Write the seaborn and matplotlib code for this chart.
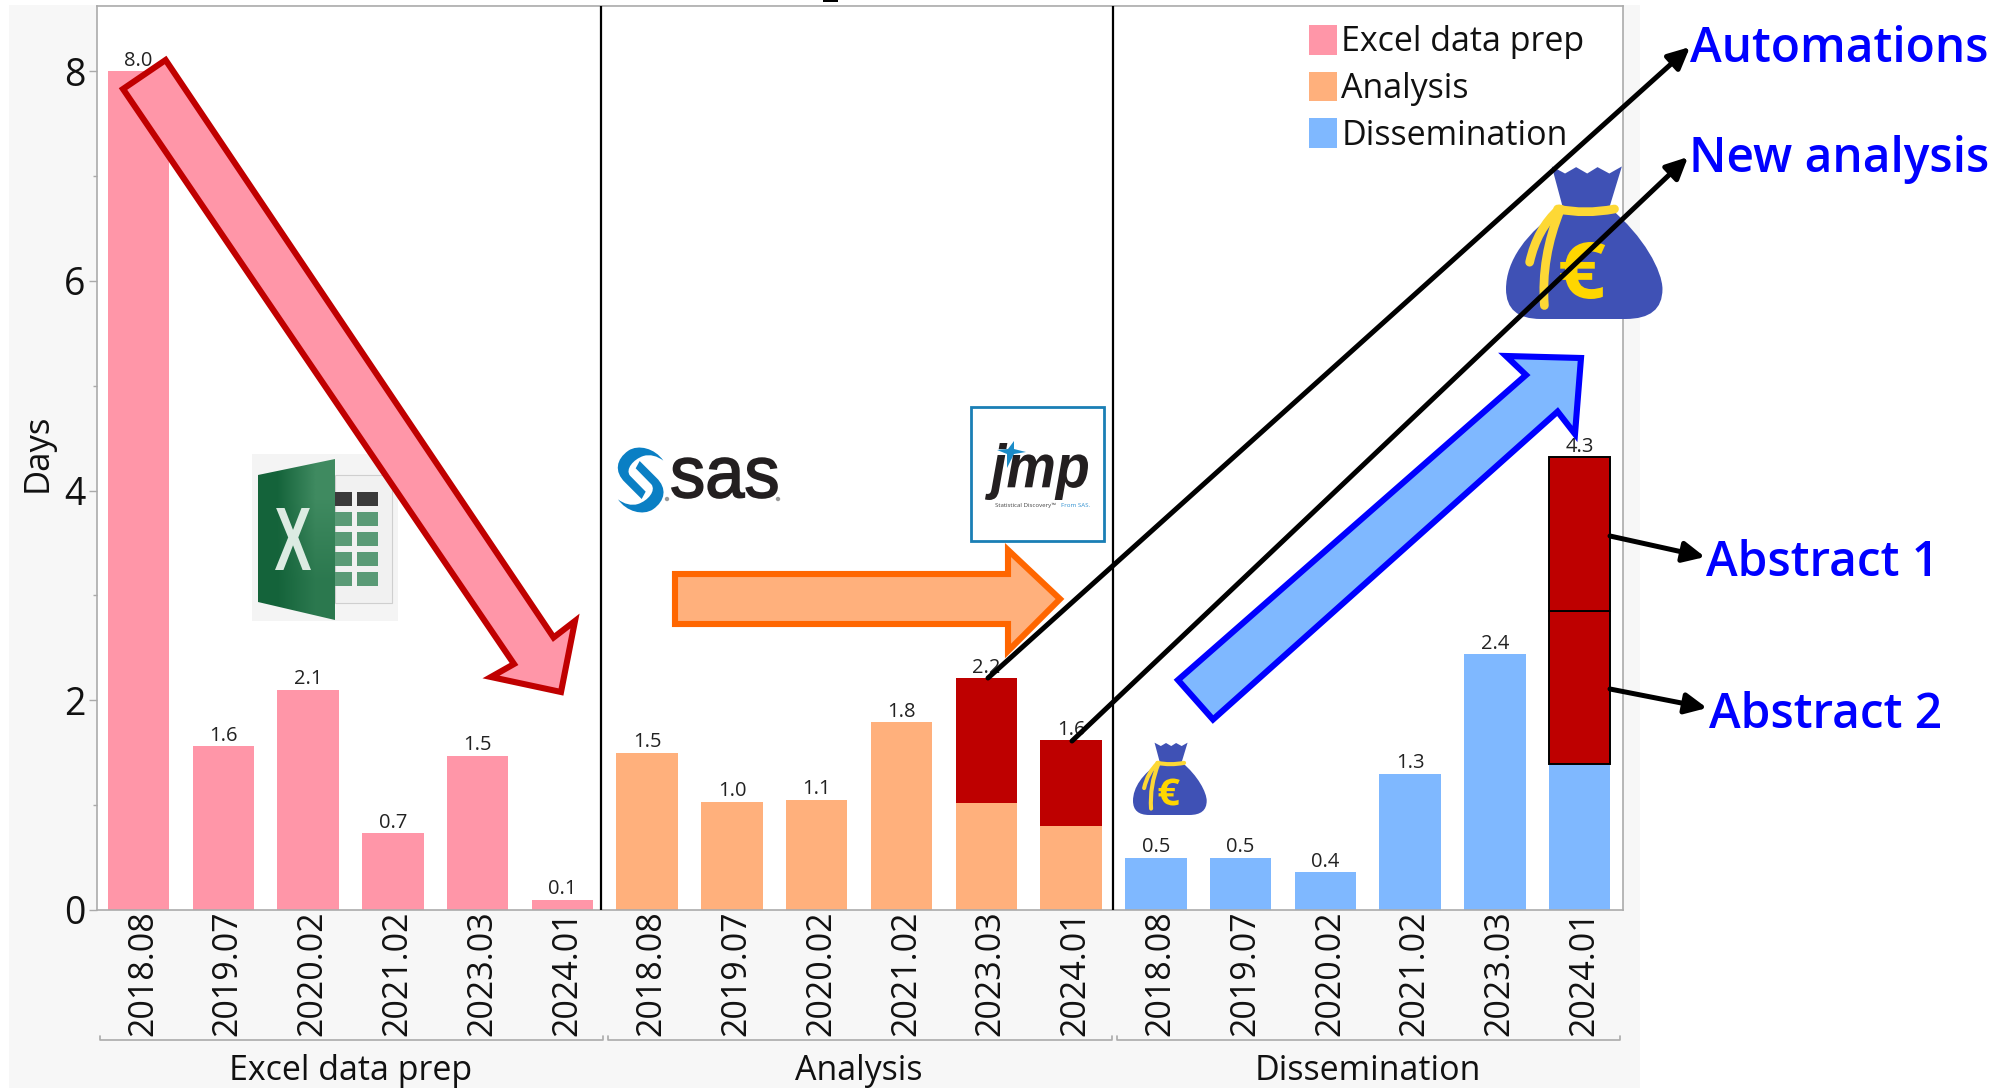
import numpy as np
import pandas as pd
import matplotlib
matplotlib.use("Agg")
import matplotlib.pyplot as plt
import seaborn as sns
from matplotlib.patches import Polygon, Rectangle, PathPatch, Circle, Patch
from matplotlib.path import Path
from matplotlib.textpath import TextPath
from matplotlib.font_manager import FontProperties
from matplotlib.ticker import MultipleLocator
from matplotlib.transforms import Affine2D, ScaledTranslation

groups = ["Excel data prep", "Analysis", "Dissemination"]
dates = ["2018.08", "2019.07", "2020.02", "2021.02", "2023.03", "2024.01"]
excel_days = [8.0, 1.56, 2.10, 0.73, 1.47, 0.10]
analysis_days = [1.50, 1.03, 1.05, 1.79, 2.21, 1.62]
dissemination_days = [0.50, 0.50, 0.36, 1.30, 2.44, 4.32]
value_labels = ["8.0", "1.6", "2.1", "0.7", "1.5", "0.1",
                "1.5", "1.0", "1.1", "1.8", "2.2", "1.6",
                "0.5", "0.5", "0.4", "1.3", "2.4", "4.3"]
palette = ["#FF96A8", "#FFB07C", "#7FB8FF"]
# highlighted (dark red) pieces: position, bottom, top
red_pos = [10, 11, 17, 17]
red_bottom = [1.02, 0.80, 1.39, 2.85]
red_top = [2.21, 1.62, 2.85, 4.32]
red_edge = ["none", "none", "black", "black"]

sns.set_theme(style="white")
FONT = ["Open Sans", "DejaVu Sans"]
plt.rcParams["font.family"] = FONT

W, H = 2016, 1088
fig = plt.figure(figsize=(W / 100, H / 100), dpi=100, facecolor="white")
fig.add_artist(Rectangle((9 / W, 0), (1640 - 9) / W, (H - 5) / H, transform=fig.transFigure,
                         fc="#F7F7F7", ec="none", zorder=-5))
L, R, T, B = 97, 1623, 6, 910
ax = fig.add_axes([L / W, (H - B) / H, (R - L) / W, (B - T) / H], facecolor="white")

values = excel_days + analysis_days + dissemination_days
df = pd.DataFrame({
    "key": [f"{g}|{d}" for g in groups for d in dates],
    "group": [g for g in groups for _ in dates],
    "Days": values,
})
sns.barplot(data=df, x="key", y="Days", hue="group", hue_order=groups, palette=palette,
            dodge=False, width=0.725, saturation=1, ax=ax, legend=False, zorder=2, linewidth=0)
ax.bar(red_pos, np.array(red_top) - np.array(red_bottom), bottom=red_bottom, width=0.725,
       color="#BE0000", edgecolor=red_edge, linewidth=1.4, zorder=3)
ax.set_xlim(-0.49, 17.51)
ax.set_ylim(0, (B - T) / 104.85)
ax.set_xticks(range(18), dates * 3, rotation=90, fontsize=24.5, color="#111111")
ax.tick_params(axis="x", length=0, pad=0)
shift = ScaledTranslation(4.5 / 100, 0, fig.dpi_scale_trans)
for lab in ax.get_xticklabels():
    lab.set_transform(lab.get_transform() + shift)
ax.set_yticks([0, 2, 4, 6, 8], ["0", "2", "4", "6", "8"], fontsize=27, color="#111111")
ax.yaxis.set_minor_locator(MultipleLocator(1))
ax.tick_params(axis="y", which="major", length=6, width=1, color="#AAAAAA", pad=2.2, left=True)
ax.tick_params(axis="y", which="minor", length=3, width=1, color="#AAAAAA", left=True)
ax.set_xlabel("")
ax.set_ylabel("Days", fontsize=25, color="#111111", va="center")
ax.yaxis.set_label_coords(-0.039, 0.506)
for s in ax.spines.values():
    s.set_color("#ABABAB")
    s.set_linewidth(1.2)
for i, (v, lab) in enumerate(zip(values, value_labels)):
    ax.text(i, v + 0.005, lab, ha="center", va="bottom", fontsize=14.5, color="#222222", zorder=4)
ax.axvline(5.45, color="black", lw=1.6, zorder=3)
ax.axvline(11.49, color="black", lw=1.6, zorder=3)

handles = [Patch(fc=c, ec="none", label=g) for c, g in zip(palette, groups)]
ax.legend(handles=handles, loc="upper left", bbox_to_anchor=((1309 - L) / (R - L), (B - 25) / (B - T)),
          frameon=False, fontsize=24.5, handlelength=0.81, handleheight=0.96,
          handletextpad=0.14, labelspacing=0.36, borderpad=0, borderaxespad=0, labelcolor="#111111")

# overlay in pixel coordinates for annotations and logos
ov = fig.add_axes([0, 0, 1, 1], facecolor="none", zorder=10)
ov.set_xlim(0, W)
ov.set_ylim(H, 0)
ov.axis("off")

# group brackets
for x0, x1, g, cx in [(100, 603, groups[0], 351), (608, 1112, groups[1], 859), (1117, 1620, groups[2], 1368)]:
    ov.plot([x0, x0, x1, x1], [1036, 1040, 1040, 1036], color="#ABABAB", lw=1.2)
    ov.text(cx, 1071, g, ha="center", va="center", fontsize=24.5, color="#111111")
ov.add_patch(Rectangle((823, 0), 15, 1.5, fc="black", ec="none"))

# --- logos ---
def fit_text(s, x0, y0, x1, y1, color, family, weight="normal", style="normal", zorder=3, stroke=0):
    tp = TextPath((0, 0), s, size=100, prop=FontProperties(family=family, weight=weight, style=style))
    bb = tp.get_extents()
    tr = (Affine2D().translate(-bb.x0, -bb.y0).scale((x1 - x0) / bb.width, -(y1 - y0) / bb.height)
          .translate(x0, y1))
    ov.add_patch(PathPatch(tp, transform=tr + ov.transData, fc=color, ec=color if stroke else "none",
                           lw=stroke, zorder=zorder))

# Excel
ov.add_patch(Rectangle((252, 454), 146, 167, fc="#F4F4F4", ec="none", zorder=1))
ov.add_patch(Rectangle((335, 475), 57, 128, fc="#F1F1F1", ec="#CFCFCF", lw=0.8, zorder=1.1))
ov.add_patch(Rectangle((335, 492), 17, 14, fc="#3A3A3A", ec="none", zorder=1.1))
ov.add_patch(Rectangle((357, 492), 21, 14, fc="#3A3A3A", ec="none", zorder=1.1))
for yy in [512, 532, 552, 572]:
    ov.add_patch(Rectangle((335, yy), 17, 14, fc="#5A9A76", ec="none", zorder=1.1))
    ov.add_patch(Rectangle((357, yy), 21, 14, fc="#5A9A76", ec="none", zorder=1.1))
green = Polygon([(258, 475), (335, 459), (335, 620), (258, 602)], fc="none", ec="none", zorder=1.2)
ov.add_patch(green)
grad = ov.imshow(np.array([[0.0, 1.0], [0.0, 0.55]]), extent=(258, 335, 620, 459), aspect="auto", zorder=1.2,
                 cmap=matplotlib.colors.LinearSegmentedColormap.from_list("g", ["#14633A", "#3F8A60"]),
                 interpolation="bilinear")
grad.set_clip_path(green)
ov.set_xlim(0, W)
ov.set_ylim(H, 0)
fit_text("X", 275, 508, 311, 570, "#DCEBE2", "Liberation Sans", weight="bold", zorder=1.3)

# SAS
def sx(p):
    return [(600 + a / 3, 430 + b / 3) for a, b in p]
swirl = [(190, 92), (165, 55), (115, 42), (85, 62), (48, 88), (42, 125), (75, 157), (125, 207),
         (137, 185), (90, 137), (75, 118), (100, 88), (130, 78), (150, 72), (172, 78), (190, 92), (190, 92)]
codes = [Path.MOVETO, Path.CURVE4, Path.CURVE4, Path.CURVE4, Path.CURVE4, Path.CURVE4, Path.CURVE4,
         Path.LINETO, Path.LINETO, Path.LINETO, Path.CURVE4, Path.CURVE4, Path.CURVE4, Path.CURVE4,
         Path.CURVE4, Path.CURVE4, Path.CLOSEPOLY]
ov.add_patch(PathPatch(Path(sx(swirl), codes), fc="#0A7FC4", ec="none", zorder=3))
ov.add_patch(PathPatch(Path(sx([(244 - a, 300 - b) for a, b in swirl]), codes), fc="#0A7FC4", ec="none", zorder=3))
fit_text("sas", 672, 458, 777, 498, "#231F20", "Liberation Sans", stroke=1.2)
ov.add_patch(Circle((667, 499), 2.2, fc="#999999", ec="none", zorder=3))
ov.add_patch(Circle((778, 499), 2.2, fc="#999999", ec="none", zorder=3))

# JMP
ov.add_patch(Rectangle((971, 407), 133, 134, fc="white", ec="#1A7FB5", lw=2, zorder=3))
fit_text("jmp", 985, 443, 1088, 500, "#231F20", "Liberation Sans", weight="bold", style="italic", zorder=3.1)
ov.add_patch(Polygon([(997, 450), (1008, 449), (1014, 441), (1014, 449), (1026, 452), (1014, 454),
                      (1007, 468), (1007, 454)], fc="#1A8CC8", ec="none", zorder=3.2))
ov.text(995, 505.5, "Statistical Discovery\u2122", fontsize=4.4, color="#444444", va="center", zorder=3.2)
ov.text(1061, 505.5, "From SAS.", fontsize=4.4, color="#2E8FD0", va="center", zorder=3.2)

# money bags
def bag(x0, y0, x1, y1, z=2):
    tr = (Affine2D().translate(-38, -35).scale((x1 - x0) / 210, (y1 - y0) / 217).translate(x0, y0)) + ov.transData
    v = [(100, 37), (118, 47), (133, 38), (148, 47), (162, 38), (178, 47), (195, 37), (178, 95),
         (225, 135), (250, 185), (250, 210), (250, 252), (200, 252), (85, 252), (38, 252), (38, 210),
         (38, 170), (65, 130), (115, 95), (100, 37)]
    c = [Path.MOVETO] + [Path.LINETO] * 7 + [Path.CURVE4] * 3 + [Path.CURVE3] * 2 + [Path.LINETO] + \
        [Path.CURVE3] * 2 + [Path.CURVE4] * 3 + [Path.CLOSEPOLY]
    ov.add_patch(PathPatch(Path(v, c), transform=tr, fc="#3F51B5", ec="none", zorder=z))
    lw = (x1 - x0) / 210 * 8.5
    gold = "#FDD835"
    rib = [((108, 97), (145, 105), (185, 97)), ((110, 97), (80, 125), (70, 172)), ((112, 97), (85, 165), (90, 233))]
    for a, b, cc in rib:
        ov.add_patch(PathPatch(Path([a, b, cc], [Path.MOVETO, Path.CURVE3, Path.CURVE3]), transform=tr,
                               fc="none", ec=gold, lw=lw, capstyle="round", zorder=z + 0.1))
    fit_text("\u20ac", x0 + (x1 - x0) * 0.35, y0 + (y1 - y0) * 0.50, x0 + (x1 - x0) * 0.64, y0 + (y1 - y0) * 0.87,
             "#FFD600", "Open Sans", weight="bold", zorder=z + 0.1)

bag(1506, 165, 1661, 319)
bag(1133, 742, 1206, 815)

# big block arrows
ov.add_patch(Polygon([(165.6, 60), (123, 89), (514, 664), (491, 677), (561, 692), (575, 621), (553.6, 637.5)],
                     closed=True, fc=palette[0], ec="#C00000", lw=4.4, joinstyle="miter", zorder=2))
ov.add_patch(Polygon([(675, 574), (1008, 574), (1008, 550), (1060, 599), (1008, 651), (1008, 624), (675, 624)],
                     closed=True, fc=palette[1], ec="#FF6600", lw=4.4, joinstyle="miter", zorder=2))
ov.add_patch(Polygon([(1178, 680), (1526, 375), (1506, 356), (1581, 358), (1575, 434), (1557.6, 411.6), (1213, 719.5)],
                     closed=True, fc=palette[2], ec="#0000FF", lw=4.4, joinstyle="miter", zorder=2))

# callouts
def callout(a, b):
    ov.annotate("", xy=b, xytext=a, arrowprops=dict(arrowstyle="-|>,head_length=0.5,head_width=0.24", lw=3.6, color="black",
                                                    mutation_scale=26, shrinkA=0, shrinkB=0), zorder=6)
callout((988, 678), (1690, 47))
callout((1072, 741), (1688, 157))
callout((1610, 536), (1705, 557))
callout((1610, 689), (1707, 708))
for x, y, s in [(1690, 50, "Automations"), (1689, 160, "New analysis"), (1706, 563, "Abstract 1"), (1709, 715, "Abstract 2")]:
    ov.text(x, y, s, color="#0000FF", fontsize=34.5, fontweight="semibold", va="center", ha="left", zorder=7)

fig.savefig("out.png", dpi=100)
